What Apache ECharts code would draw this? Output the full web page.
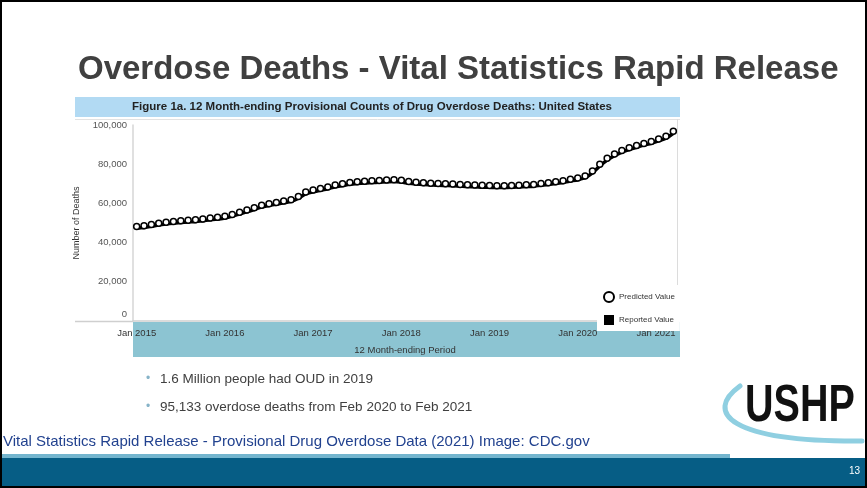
<!DOCTYPE html>
<html>
<head>
<meta charset="utf-8">
<script src="https://cdn.jsdelivr.net/npm/echarts@6/dist/echarts.min.js"></script>
<style>
html,body{margin:0;padding:0;background:#fff;}
#c{width:867px;height:488px;}
</style>
</head>
<body>
<div id="c"></div>
<script>
// ---- data ----
var years = [2015, 2016, 2017, 2018, 2019, 2020, 2021];
var monthNames = ['Jan','Feb','Mar','Apr','May','Jun','Jul','Aug','Sep','Oct','Nov','Dec'];
var predicted = [48200,48600,49200,49900,50400,50800,51100,51400,51700,52100,52500,52900,
53400,54400,55500,56600,57800,59000,59800,60500,61200,61900,63500,65800,
66800,67600,68400,69400,70000,70600,71000,71300,71500,71700,71900,72100,
71800,71200,70800,70500,70300,70100,70000,69900,69700,69500,69400,69200,
69100,69000,69000,69100,69300,69500,69700,70100,70500,71000,71600,72300,
73000,74000,76500,80000,83000,85200,87000,88400,89500,90600,91600,92800,
94200,96800];
var reported = [47300,47700,48300,49000,49500,49900,50200,50500,50800,51200,51600,52000,
52500,53500,54600,55700,56900,58100,58900,59600,60300,61000,62600,64900,
65900,66700,67500,68500,69100,69700,70100,70400,70600,70800,71000,71200,
70900,70300,69900,69600,69400,69200,69100,69000,68800,68600,68500,68300,
68200,68100,68100,68200,68400,68600,68800,69200,69600,70100,70700,71400,
72100,73100,75600,79100,82100,84300,86100,87500,88600,89700,90700,91900,
93300,95800];
var yTicks = [0, 20000, 40000, 60000, 80000, 100000];
var bullets = ['1.6 Million people had OUD in 2019', '95,133 overdose deaths from Feb 2020 to Feb 2021'];

// month categories
var months = [];
years.forEach(function (y) {
  monthNames.forEach(function (m) {
    if (months.length < predicted.length) months.push(m + ' ' + y);
  });
});
var xData = months.map(function (m) {
  if (m === 'Jan 2021') return { value: m, textStyle: { padding: [0, 20, 0, 0] } };
  return m;
});

var FONT = '"Liberation Sans", Arial, sans-serif';
var chart = echarts.init(document.getElementById('c'), null, { renderer: 'canvas' });

var gfx = [
  { type: 'rect', z: -5, shape: { x: 75, y: 97, width: 605, height: 20 }, style: { fill: '#b2daf3' } },
  { type: 'text', z: 5, x: 372, y: 107, style: { text: 'Figure 1a. 12 Month-ending Provisional Counts of Drug Overdose Deaths: United States', font: 'bold 11.5px ' + FONT, fill: '#222', textAlign: 'center', textVerticalAlign: 'middle' } },
  { type: 'line', z: -5, shape: { x1: 75, y1: 119.5, x2: 680, y2: 119.5 }, style: { stroke: '#e2e2e2', lineWidth: 1 } },
  { type: 'line', z: -5, shape: { x1: 677.5, y1: 119, x2: 677.5, y2: 321 }, style: { stroke: '#dcdcdc', lineWidth: 1 } },
  { type: 'line', z: -5, shape: { x1: 75, y1: 321.5, x2: 133, y2: 321.5 }, style: { stroke: '#cfcfcf', lineWidth: 1.5 } },
  { type: 'rect', z: -5, shape: { x: 133, y: 322, width: 547, height: 35 }, style: { fill: '#8cc4d2' } },
  { type: 'text', x: 78, y: 70, style: { text: 'Overdose Deaths - Vital Statistics Rapid Release', font: 'bold 33px ' + FONT, fill: '#404040', textVerticalAlign: 'middle' } },
  { type: 'text', x: 3, y: 442, style: { text: 'Vital Statistics Rapid Release - Provisional Drug Overdose Data (2021) Image: CDC.gov', font: '15px ' + FONT, fill: '#22428f', textVerticalAlign: 'middle' } },
  { type: 'rect', shape: { x: 0, y: 454, width: 730, height: 4 }, style: { fill: '#74b5ce' } },
  { type: 'rect', shape: { x: 0, y: 458, width: 867, height: 28 }, style: { fill: '#065d85' } },
  { type: 'text', x: 860, y: 471, style: { text: '13', font: '10px ' + FONT, fill: '#fff', textAlign: 'right', textVerticalAlign: 'middle' } },
  { type: 'bezierCurve', shape: { x1: 740, y1: 386, cpx1: 704, cpy1: 412, cpx2: 728, cpy2: 442, x2: 862, y2: 441 }, style: { stroke: '#8fcfe1', lineWidth: 5, fill: null, lineCap: 'round' } },
  { type: 'text', x: 745, y: 407, scaleX: 0.76, scaleY: 1, originX: 0, originY: 0, style: { text: 'USHP', font: 'bold 52px ' + FONT, fill: '#111', textVerticalAlign: 'middle' } },
  { type: 'rect', z: 100, shape: { x: 1, y: 1, width: 865, height: 486 }, style: { fill: null, stroke: '#000', lineWidth: 2 } }
];
bullets.forEach(function (b, i) {
  var yy = 379 + i * 28;
  gfx.push({ type: 'text', x: 146, y: yy, style: { text: '•', font: '12px ' + FONT, fill: '#86b3c8', textVerticalAlign: 'middle' } });
  gfx.push({ type: 'text', x: 160, y: yy, style: { text: b, font: '13.5px ' + FONT, fill: '#404040', textVerticalAlign: 'middle' } });
});

var option = {
  animation: false,
  textStyle: { fontFamily: FONT },
  grid: { left: 133, right: 190, top: 125, bottom: 167, containLabel: false },
  legend: {
    orient: 'vertical', left: 597, top: 285, backgroundColor: '#fff', padding: [6, 5, 6, 6],
    itemWidth: 10, itemHeight: 10, itemGap: 12, itemTextGap: 4,
    textStyle: { fontSize: 8, color: '#333' },
    data: [
      { name: 'Predicted Value', icon: 'circle', itemStyle: { color: '#fff', borderColor: '#000', borderWidth: 2 } },
      { name: 'Reported Value', icon: 'rect', itemStyle: { color: '#000', borderWidth: 0 } }
    ]
  },
  xAxis: [
    {
      type: 'category', data: xData, boundaryGap: true, position: 'bottom',
      name: '12 Month-ending Period', nameLocation: 'middle', nameGap: 24,
      nameTextStyle: { fontSize: 9.5, color: '#333' },
      axisLine: { lineStyle: { color: '#cfcfcf', width: 1.5 } },
      axisTick: { alignWithLabel: true, length: 6, interval: function (i) { return i % 12 === 0; }, lineStyle: { color: '#444' } },
      axisLabel: { interval: function (i) { return i % 12 === 0; }, fontSize: 9.5, color: '#333', margin: 7 }
    },
    {
      type: 'category', data: months, boundaryGap: true, position: 'bottom',
      axisLine: { show: false },
      axisTick: { alignWithLabel: true, length: 3, interval: 0, lineStyle: { color: '#555' } },
      axisLabel: { show: false }
    }
  ],
  yAxis: {
    type: 'value', min: 0, max: 100000, interval: 20000,
    name: 'Number of Deaths', nameLocation: 'middle', nameGap: 52,
    nameTextStyle: { fontSize: 9, color: '#333' },
    axisLine: { show: true, lineStyle: { color: '#d6d6d6', width: 1.5 } },
    axisTick: { show: false },
    splitLine: { show: false },
    axisLabel: {
      fontSize: 9.5, color: '#555', margin: 6,
      formatter: function (v) { return v === 0 ? '{z|0}' : v.toLocaleString('en-US'); },
      rich: { z: { fontSize: 9.5, color: '#555', padding: [0, 0, 14, 0] } }
    }
  },
  series: [
    {
      name: 'Reported Value', type: 'line', xAxisIndex: 0, data: reported, smooth: 0.3,
      symbol: 'none', lineStyle: { color: '#000', width: 3.5 }, itemStyle: { color: '#000' }, z: 2
    },
    {
      name: 'Predicted Value', type: 'scatter', xAxisIndex: 0, data: predicted,
      symbol: 'circle', symbolSize: 6,
      itemStyle: { color: '#fff', borderColor: '#000', borderWidth: 1.5, opacity: 1 }, z: 3
    }
  ],
  graphic: { elements: gfx }
};
chart.setOption(option);
</script>
</body>
</html>
